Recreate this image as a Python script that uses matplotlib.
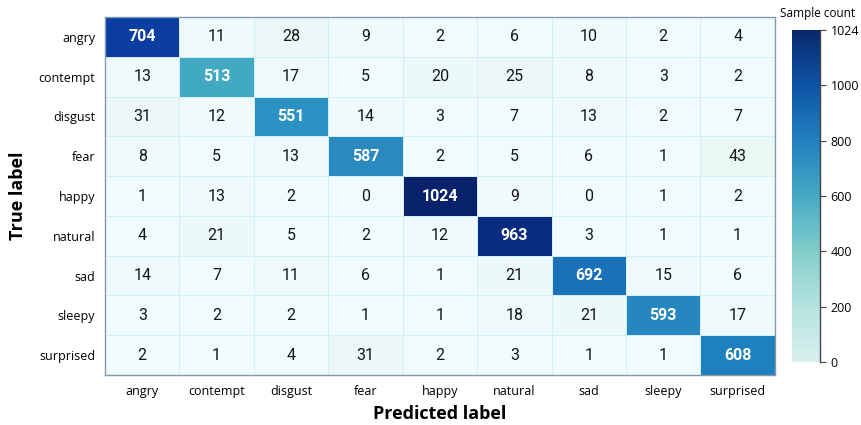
import numpy as np
import matplotlib
matplotlib.use("Agg")
import matplotlib.pyplot as plt
import matplotlib.cm as mcm
from matplotlib.colors import LinearSegmentedColormap, Normalize, FuncNorm

labels = ["angry", "contempt", "disgust", "fear", "happy", "natural", "sad", "sleepy", "surprised"]
cm_angry     = [704, 11, 28, 9, 2, 6, 10, 2, 4]
cm_contempt  = [13, 513, 17, 5, 20, 25, 8, 3, 2]
cm_disgust   = [31, 12, 551, 14, 3, 7, 13, 2, 7]
cm_fear      = [8, 5, 13, 587, 2, 5, 6, 1, 43]
cm_happy     = [1, 13, 2, 0, 1024, 9, 0, 1, 2]
cm_natural   = [4, 21, 5, 2, 12, 963, 3, 1, 1]
cm_sad       = [14, 7, 11, 6, 1, 21, 692, 15, 6]
cm_sleepy    = [3, 2, 2, 1, 1, 18, 21, 593, 17]
cm_surprised = [2, 1, 4, 31, 2, 3, 1, 1, 608]
cbar_ticks = [0, 200, 400, 600, 800, 1000, 1024]

M = np.array([cm_angry, cm_contempt, cm_disgust, cm_fear, cm_happy,
              cm_natural, cm_sad, cm_sleepy, cm_surprised])
vmax = 1024.0

# colour scale used for the cells (as seen in the reference)
cell_nodes = [(0, "#f0fbfd"), (45, "#e8f6f4"), (513, "#42abc2"), (551, "#2b90c3"),
              (587, "#2a8ac0"), (608, "#1f80c0"), (692, "#1f7ec0"), (704, "#0b3e9f"),
              (963, "#0a2c80"), (1024, "#08236b")]
cell_cmap = LinearSegmentedColormap.from_list(
    "cells", [(v / vmax, c) for v, c in cell_nodes])

# colour bar (its own non-uniform scale: 1000 -> 1024 stretched)
bar_cmap = LinearSegmentedColormap.from_list(
    "bar", [(0.0, "#d8f0ee"), (1 / 6, "#b5e3df"), (2 / 6, "#82cdca"), (3 / 6, "#45aac3"),
            (4 / 6, "#2180bf"), (5 / 6, "#0d55a5"), (1.0, "#08286c")])
fwd = lambda x: np.interp(x, [0, 1000, 1024], [0, 1000, 1200])
inv = lambda y: np.interp(y, [0, 1000, 1200], [0, 1000, 1024])
bar_norm = FuncNorm((fwd, inv), vmin=0, vmax=1024)

fig = plt.figure(figsize=(8.61, 4.25), dpi=100)
ax = fig.add_axes([0.122, 0.1176, 0.778, 0.8424])
mesh = ax.pcolormesh(M, cmap=cell_cmap, norm=Normalize(0, vmax),
                     edgecolors="#d2eff8", linewidth=0.5)
ax.set_xlim(0, 9)
ax.set_ylim(9, 0)

numfont = ["Roboto", "DejaVu Sans"]
for i in range(9):
    for j in range(9):
        v = M[i, j]
        white = v > 300
        ax.text(j + 0.5, i + 0.5, str(v), ha="center", va="center",
                fontsize=11.5, family=numfont,
                color="white" if white else "#151515",
                fontweight="bold" if white else "normal")

tickfont = ["Open Sans", "DejaVu Sans"]
ax.set_xticks(np.arange(9) + 0.5)
ax.set_yticks(np.arange(9) + 0.5)
ax.set_xticklabels(labels, fontsize=9, family=tickfont)
ax.set_yticklabels(labels, fontsize=9, family=tickfont)
ax.tick_params(length=0, pad=7)
for s in ax.spines.values():
    s.set_color("#7f9bb0")
    s.set_linewidth(1.0)

ax.set_xlabel("Predicted label", fontsize=13, fontweight="bold", family=tickfont, labelpad=5)
ax.set_ylabel("True label", fontsize=13, fontweight="bold", family=tickfont, labelpad=8)

cax = fig.add_axes([0.920, 0.148, 0.0325, 0.781])
sm = mcm.ScalarMappable(norm=bar_norm, cmap=bar_cmap)
cbar = fig.colorbar(sm, cax=cax, ticks=cbar_ticks)
cbar.outline.set_visible(False)
cax.spines["right"].set_visible(True)
cax.spines["right"].set_color("#444444")
cax.spines["right"].set_linewidth(1.0)
cax.tick_params(labelsize=9, length=4, width=0.8, color="#444444")
cax.set_yticklabels([str(t) for t in cbar_ticks])
for t in cax.get_yticklabels():
    t.set_family(tickfont)
fig.text(818 / 861, 1 - 14 / 425, "Sample count", ha="center", va="center",
         fontsize=8.5, family=tickfont)

fig.savefig("out.png", dpi=100)
